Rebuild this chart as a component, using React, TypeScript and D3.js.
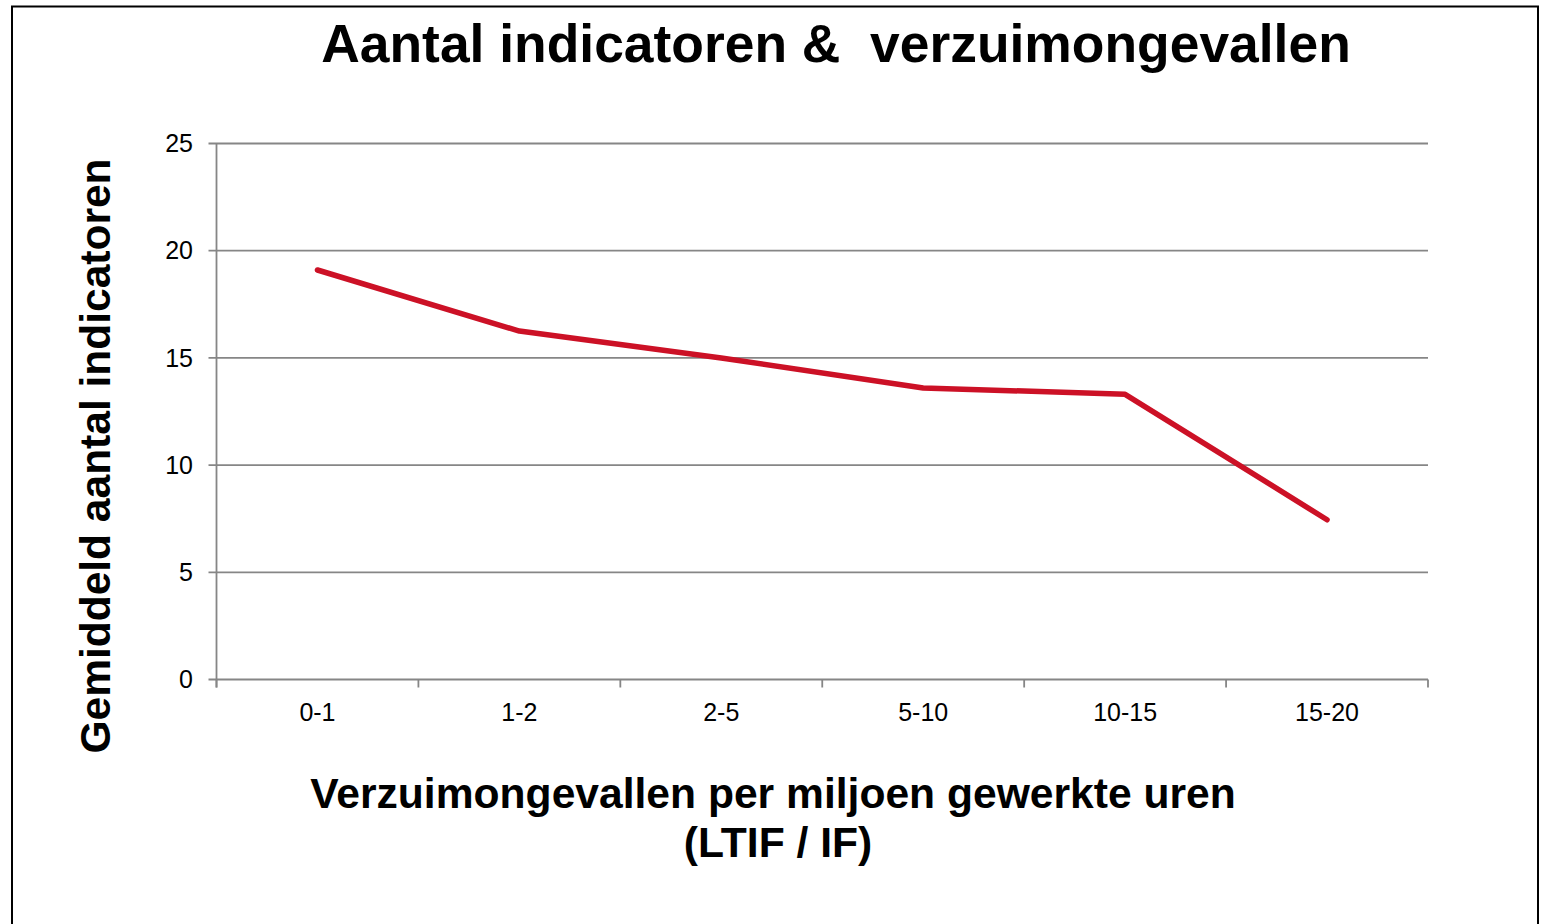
import React from "react";
import * as d3 from "d3";

// categorieën en gemiddelden
const categories = ["0-1", "1-2", "2-5", "5-10", "10-15", "15-20"];
const values = [19.1, 16.25, 15.0, 13.6, 13.3, 7.45];
const yTicks = [0, 5, 10, 15, 20, 25];

const W = 1541;
const H = 924;
const FONT = "'Liberation Sans', Arial, sans-serif";

/** lijngrafiek: aantal indicatoren vs verzuimongevallen */
export default function App() {
    const left = 216.5, right = 1428, top = 143.5, bottom = 679.5;

    const x = d3.scaleBand<string>().domain(categories).range([left, right]);
    const y = d3.scaleLinear().domain([0, 25]).range([bottom, top]);

    const line = d3.line<number>()
        .x((d, i) => (x(categories[i]) as number) + x.bandwidth() / 2)
        .y((d) => y(d));

    // grenzen tussen categorieën voor de tick-streepjes
    const bounds = categories.map((c) => x(c) as number).concat([right]);

    return (
        <div style={{ position: "absolute", left: 0, top: 0 }}>
            <svg width={W} height={H} style={{ display: "block", background: "#fff" }} fontFamily={FONT}>
                {/* kader */}
                <rect x={12} y={6.5} width={1526} height={1000} fill="none" stroke="#000" strokeWidth={2} />

                {/* titel */}
                <text x={836} y={62} textAnchor="middle" fontSize={53.4} fontWeight="bold" fill="#000" style={{ whiteSpace: "pre" }}>
                    {"Aantal indicatoren &  verzuimongevallen"}
                </text>

                {/* rasterlijnen */}
                {yTicks.map((t) => (
                    <g key={t}>
                        <line x1={left - 8} x2={right} y1={y(t)} y2={y(t)} stroke="#868686" strokeWidth={1.8} />
                        <text x={193} y={y(t)} dy="0.35em" textAnchor="end" fontSize={25} fill="#000">{t}</text>
                    </g>
                ))}

                {/* y-as */}
                <line x1={left} x2={left} y1={top} y2={bottom + 8} stroke="#868686" strokeWidth={1.8} />

                {/* x-as ticks */}
                {bounds.map((b, i) => (
                    <line key={i} x1={b} x2={b} y1={bottom} y2={bottom + 8} stroke="#868686" strokeWidth={1.8} />
                ))}
                {categories.map((c) => (
                    <text key={c} x={(x(c) as number) + x.bandwidth() / 2} y={721} textAnchor="middle" fontSize={25} fill="#000">{c}</text>
                ))}

                {/* lijn */}
                <path d={line(values) || ""} fill="none" stroke="#CC1126" strokeWidth={5.5} strokeLinejoin="round" strokeLinecap="round" />

                {/* as-titels */}
                <text transform={`translate(110, 456) rotate(-90)`} textAnchor="middle" fontSize={42.5} fontWeight="bold" fill="#000">
                    Gemiddeld aantal indicatoren
                </text>
                <text x={773} y={808} textAnchor="middle" fontSize={42.6} fontWeight="bold" fill="#000">
                    Verzuimongevallen per miljoen gewerkte uren
                </text>
                <text x={778} y={857} textAnchor="middle" fontSize={42.6} fontWeight="bold" fill="#000">
                    (LTIF / IF)
                </text>
            </svg>
        </div>
    );
}
